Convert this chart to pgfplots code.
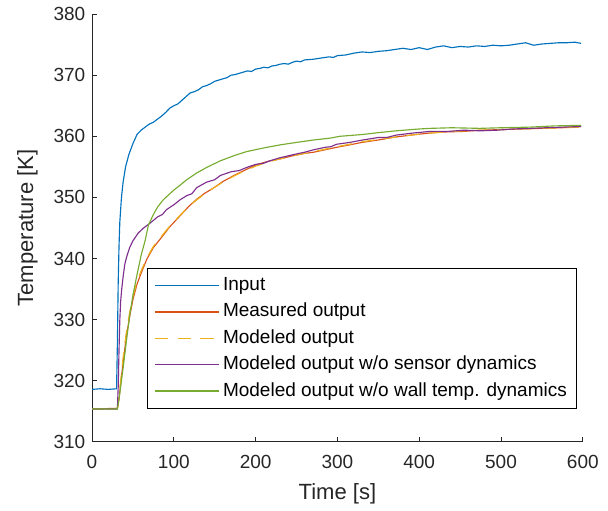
\documentclass[border=0pt]{standalone}
\usepackage{fontspec}
\setmainfont{Liberation Sans}
\usepackage{pgfplots}
\pgfplotsset{compat=1.18}

\definecolor{mblue}{rgb}{0,0.447,0.741}
\definecolor{morange}{rgb}{0.85,0.325,0.098}
\definecolor{myellow}{rgb}{0.929,0.694,0.125}
\definecolor{mpurple}{rgb}{0.494,0.184,0.556}
\definecolor{mgreen}{rgb}{0.466,0.674,0.188}
\definecolor{axgray}{rgb}{0.15,0.15,0.15}

\begin{document}
\begin{tikzpicture}
\begin{axis}[
scale only axis,
width=258.4pt, height=225.3pt,
xmin=0, xmax=600, ymin=310, ymax=380,
xtick={0,100,...,600}, ytick={310,320,...,380},
axis x line*=bottom, axis y line*=left,
axis line style={axgray, line width=0.5pt, -},
tick style={axgray, line width=0.5pt},
major tick length=2.8pt,
tick align=inside,
/pgf/number format/assume math mode=true,
/pgf/number format/1000 sep={},
ticklabel style={font=\fontsize{10}{12}\selectfont, text=axgray},
xticklabel style={yshift=-3.5pt},
xlabel={Time [s]}, ylabel={Temperature [K]},
label style={font=\fontsize{11.6}{13}\selectfont, text=axgray},
xlabel style={at={(axis description cs:0.5,0)}, anchor=center, yshift=-27.5pt},
ylabel style={at={(axis description cs:-0.1316,0.5)}, anchor=center},
legend cell align=left,
legend style={at={(0.112,0.4065)}, anchor=north west, line width=0.5pt,
  font=\fontsize{10}{12}\selectfont, inner xsep=3.5pt, inner ysep=2pt, row sep=0pt,
  nodes={inner sep=1.6pt, text height=8pt, text depth=2.7pt}},
legend image code/.code={\draw[#1, line width=0.7pt] (0pt,0pt) -- (34pt,0pt);},
every axis plot/.append style={line width=0.6pt},
]
\addplot[draw=mblue] table {
0 318.6
10 318.7
20 318.6
30 318.7
31 326
32 336
33 342
34 346
36 350
38 352.5
41 355
45 357
50 358.8
55 360.3
60 361.0
65 361.5
70 362.0
75 362.3
80 362.8
85 363.3
90 363.9
95 364.6
100 365.0
105 365.3
110 365.9
115 366.5
120 367.1
125 367.3
130 367.6
135 368.1
140 368.3
145 368.6
150 369.0
155 369.2
160 369.4
165 369.6
170 370.0
175 370.1
180 370.3
185 370.5
190 370.7
195 370.6
200 371.0
205 371.1
210 371.3
215 371.2
220 371.5
225 371.6
230 371.8
235 371.9
240 371.8
245 372.1
250 372.3
255 372.2
260 372.5
270 372.6
280 372.8
290 373.0
295 372.9
300 373.2
310 373.3
320 373.6
330 373.8
340 373.7
350 373.9
360 374.0
370 374.2
380 374.4
390 374.2
400 374.5
410 374.2
420 374.6
430 374.8
440 374.5
450 374.7
460 374.6
470 374.8
480 374.7
490 374.9
500 374.8
510 374.9
520 375.1
530 375.3
540 374.9
550 375.1
560 375.2
570 375.3
580 375.3
590 375.4
598 375.2
};
\addlegendentry{Input}
\addplot[draw=morange] table {
0 315.4
31 315.5
33 317
35 319.5
38 323
42 327.3
46 330.5
50 333.3
55 335.8
60 337.6
67 339.9
75 341.8
87 343.8
95 345.2
107 346.9
118 348.5
128 349.7
138 350.7
148 351.5
160 352.6
175 353.7
189 354.6
200 355.3
215 355.9
230 356.3
245 356.8
260 357.2
271 357.4
285 357.8
299 358.2
315 358.6
330 359.0
350 359.4
372 359.9
390 360.2
410 360.5
430 360.7
454 360.8
475 361.0
500 361.1
525 361.2
550 361.3
575 361.4
598 361.6
};
\addlegendentry{Measured output}
\addplot[draw=myellow, dash pattern=on 7pt off 5pt] table {
0 315.4
31 315.5
33 317.3
35 320
38 323.8
42 328
46 331.2
50 333.8
55 336.2
60 338.0
67 340.1
75 342.0
87 344.0
95 345.3
107 347.0
118 348.5
128 349.6
138 350.6
148 351.5
160 352.5
175 353.6
189 354.5
200 355.1
215 355.8
230 356.3
245 356.8
260 357.2
271 357.5
285 357.9
299 358.3
315 358.7
330 359.1
350 359.5
372 359.9
390 360.2
410 360.5
430 360.7
454 360.9
475 361.0
500 361.1
525 361.2
550 361.3
575 361.4
598 361.5
};
\addlegendentry{Modeled output}
\addplot[draw=mpurple] table {
0 315.4
31 315.4
32 319
33 325
34 330
35 333
36.3 335
38 337
40 339
42.4 340.3
46 341.8
50 342.9
56.6 344.2
63 345
71 345.8
80 346.8
86 347.2
91 348.0
100 348.8
107.5 349.6
115.8 350.3
122 350.6
128 351.6
140 352.5
150 352.9
157 353.6
170 354.2
180 354.4
189 354.9
200 355.4
210 355.6
217.6 356.0
230 356.5
246 357.0
260 357.4
271 357.8
285 358.2
292 358.3
299 358.7
315 359.0
331 359.4
350 359.8
360 359.8
372 360.2
390 360.5
413 360.8
435 360.8
455 361.0
475 360.9
495 361.0
515 361.2
535 361.3
555 361.4
575 361.5
598 361.6
};
\addlegendentry{Modeled output w/o sensor dynamics}
\addplot[draw=mgreen] table {
0 315.4
31 315.4
33 317
35 319
38.3 322.4
42 326.5
46.5 331.1
50 334
54.6 337.1
60 340.5
65 343
69 345.5
75 347.2
80 348.4
87 349.6
91 350.1
100 351.2
107.6 352.0
115.8 352.9
128 354.0
140 354.9
157 356.0
175 356.9
189 357.5
210 358.1
230 358.6
250 359.0
271 359.4
291 359.7
303 360.0
331 360.3
350 360.6
372 360.9
400 361.2
413 361.3
440 361.4
474 361.3
500 361.4
535 361.5
565 361.7
598 361.8
};
\addlegendentry{Modeled output w/o wall temp. dynamics}
\coordinate (bbl) at (axis cs:-112.5,299.0);
\coordinate (btr) at (axis cs:630.8,382.3);
\end{axis}
\path (bbl) rectangle (btr);
\end{tikzpicture}
\end{document}
